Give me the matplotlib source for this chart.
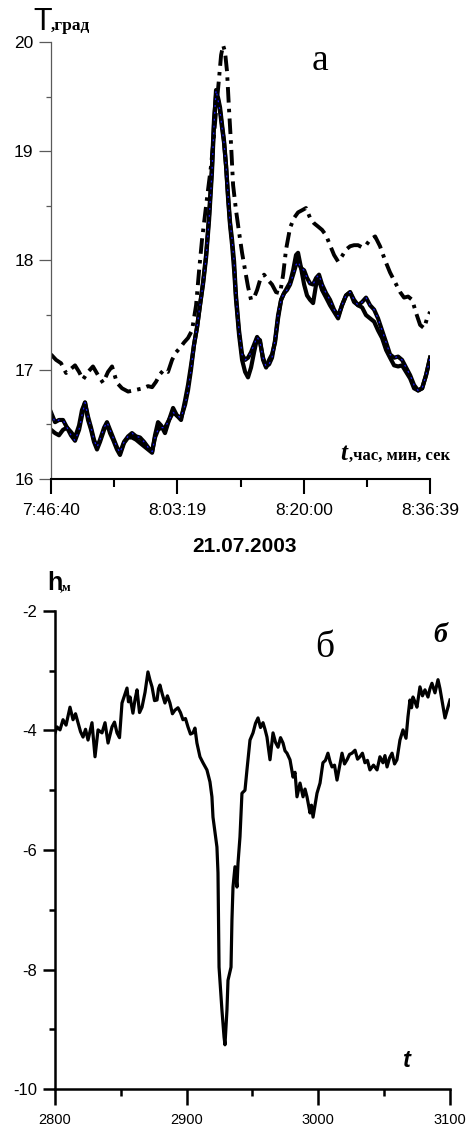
import matplotlib
matplotlib.use("Agg")
import matplotlib.pyplot as plt
from matplotlib.ticker import FixedLocator, MultipleLocator, FuncFormatter

# ---------------- panel (а): temperature records, seconds since 7:46:40 ----------------
t_solid = [0, 32, 63, 95, 127, 158, 190, 222, 245, 269, 293, 317, 340, 364, 388, 420,
           443, 467, 491, 522, 546, 578, 610, 641, 673, 704, 736, 768, 800, 823, 847,
           871, 902, 934, 966, 997, 1029, 1061, 1084, 1108, 1132, 1156, 1179, 1203, 1227,
           1251, 1274, 1290, 1306, 1322, 1338, 1354, 1369, 1385, 1401, 1417, 1433, 1449,
           1464, 1488, 1512, 1536, 1559, 1583, 1607, 1631, 1654, 1678, 1702, 1726, 1749,
           1773, 1797, 1821, 1844, 1868, 1892, 1916, 1939, 1955, 1979, 2003, 2026, 2050,
           2074, 2098, 2121, 2145, 2177, 2208, 2240, 2272, 2303, 2335, 2367, 2398, 2430,
           2462, 2493, 2525, 2557, 2588, 2620, 2652, 2683, 2715, 2747, 2778, 2810, 2842,
           2873, 2905, 2937, 2968, 3000]

temp_a = [16.61, 16.52, 16.54, 16.54, 16.47, 16.40, 16.35, 16.45, 16.58, 16.70, 16.57,
          16.47, 16.36, 16.29, 16.36, 16.47, 16.52, 16.45, 16.38, 16.29, 16.24, 16.34,
          16.39, 16.42, 16.39, 16.38, 16.34, 16.29, 16.25, 16.38, 16.45, 16.47, 16.47,
          16.54, 16.61, 16.58, 16.56, 16.68, 16.81, 17.00, 17.23, 17.39, 17.59, 17.78,
          18.02, 18.37, 18.81, 19.24, 19.56, 19.47, 19.36, 19.21, 19.08, 18.87, 18.60,
          18.35, 18.19, 17.99, 17.68, 17.36, 17.14, 17.09, 17.11, 17.16, 17.23, 17.30,
          17.25, 17.11, 17.03, 17.05, 17.11, 17.27, 17.50, 17.64, 17.70, 17.73, 17.78,
          17.87, 17.96, 17.99, 17.93, 17.91, 17.84, 17.79, 17.78, 17.84, 17.87, 17.78,
          17.70, 17.64, 17.55, 17.49, 17.59, 17.68, 17.71, 17.64, 17.59, 17.62, 17.66,
          17.59, 17.55, 17.47, 17.36, 17.25, 17.14, 17.11, 17.12, 17.09, 17.02, 16.95,
          16.86, 16.81, 16.83, 16.95, 17.11]

temp_b = [16.45, 16.42, 16.40, 16.45, 16.47, 16.43, 16.38, 16.49, 16.63, 16.70, 16.54,
          16.45, 16.34, 16.27, 16.34, 16.45, 16.51, 16.42, 16.36, 16.27, 16.22, 16.33,
          16.38, 16.38, 16.36, 16.33, 16.30, 16.27, 16.24, 16.40, 16.52, 16.49, 16.42,
          16.54, 16.65, 16.58, 16.54, 16.72, 16.86, 17.04, 17.23, 17.39, 17.59, 17.80,
          18.05, 18.42, 18.87, 19.29, 19.51, 19.49, 19.40, 19.24, 19.10, 18.87, 18.57,
          18.32, 18.14, 17.91, 17.64, 17.32, 17.09, 16.98, 16.93, 17.02, 17.16, 17.29,
          17.27, 17.09, 17.02, 17.09, 17.14, 17.25, 17.47, 17.64, 17.70, 17.75, 17.80,
          17.91, 18.05, 18.07, 17.93, 17.78, 17.68, 17.64, 17.61, 17.78, 17.82, 17.73,
          17.66, 17.59, 17.53, 17.47, 17.59, 17.68, 17.71, 17.62, 17.59, 17.57, 17.50,
          17.47, 17.44, 17.36, 17.29, 17.18, 17.11, 17.04, 17.03, 17.04, 16.98, 16.92,
          16.83, 16.81, 16.83, 16.95, 17.11]

t_dashdot = [0, 40, 79, 119, 150, 190, 222, 253, 293, 332, 372, 412, 451, 483, 522, 562,
             610, 649, 689, 728, 768, 800, 831, 863, 894, 926, 958, 990, 1021, 1053, 1084,
             1116, 1148, 1172, 1195, 1219, 1243, 1267, 1290, 1314, 1330, 1346, 1362, 1377,
             1393, 1409, 1425, 1441, 1464, 1488, 1512, 1536, 1559, 1583, 1607, 1631, 1654,
             1686, 1718, 1749, 1781, 1813, 1837, 1860, 1892, 1924, 1955, 1987, 2018, 2050,
             2082, 2114, 2145, 2177, 2208, 2240, 2272, 2303, 2335, 2367, 2398, 2430, 2462,
             2493, 2525, 2565, 2604, 2644, 2683, 2723, 2763, 2794, 2826, 2858, 2889, 2921,
             2953, 2976, 3000]

temp_c = [17.14, 17.09, 17.06, 16.97, 17.00, 17.04, 16.98, 16.91, 16.98, 17.03, 16.95,
          16.88, 16.98, 17.03, 16.88, 16.83, 16.80, 16.81, 16.82, 16.83, 16.85, 16.84,
          16.89, 16.96, 17.00, 16.98, 17.09, 17.16, 17.20, 17.25, 17.29, 17.36, 17.59,
          17.91, 18.19, 18.42, 18.65, 18.87, 19.15, 19.47, 19.67, 19.88, 19.97, 19.91,
          19.73, 19.38, 19.06, 18.69, 18.46, 18.26, 18.07, 17.91, 17.76, 17.64, 17.66,
          17.73, 17.82, 17.87, 17.82, 17.78, 17.71, 17.70, 17.87, 18.10, 18.30, 18.39,
          18.44, 18.46, 18.48, 18.39, 18.34, 18.31, 18.28, 18.23, 18.14, 18.05, 17.99,
          18.04, 18.10, 18.13, 18.14, 18.14, 18.12, 18.14, 18.19, 18.22, 18.13, 18.00,
          17.89, 17.80, 17.71, 17.66, 17.67, 17.64, 17.52, 17.41, 17.38, 17.47, 17.53]

time_ticks = [0, 1000, 2000, 3000]
time_labels = ["7:46:40", "8:03:19", "8:20:00", "8:36:39"]

# ---------------- panel (б): depth record ----------------
t_depth = [2800.0, 2801.5, 2803.8, 2806.1, 2808.4, 2811.4, 2813.7, 2815.6, 2817.5, 2819.4,
           2821.3, 2823.2, 2825.1, 2828.1, 2830.4, 2832.7, 2835.7, 2838.0, 2840.3, 2843.3,
           2845.2, 2847.1, 2849.0, 2850.9, 2854.7, 2855.8, 2857.0, 2859.2, 2860.8, 2862.3,
           2864.2, 2866.1, 2868.4, 2870.6, 2872.2, 2873.7, 2875.6, 2877.5, 2878.6, 2879.7,
           2881.6, 2883.5, 2885.4, 2887.3, 2889.2, 2891.1, 2893.4, 2895.3, 2897.2, 2899.1,
           2901.0, 2902.9, 2904.8, 2906.3, 2907.8, 2910.1, 2912.4, 2915.4, 2917.7, 2919.2,
           2920.0, 2923.0, 2923.8, 2924.6, 2926.8, 2928.4, 2929.1, 2930.6, 2931.4, 2933.7,
           2934.4, 2935.2, 2936.7, 2938.2, 2939.0, 2940.5, 2942.0, 2944.3, 2945.8, 2948.1,
           2950.4, 2952.3, 2954.2, 2956.1, 2958.0, 2959.5, 2961.0, 2963.3, 2965.6, 2967.5,
           2969.4, 2971.3, 2973.2, 2974.7, 2976.2, 2978.5, 2980.8, 2982.3, 2983.8, 2986.1,
           2988.4, 2989.9, 2991.4, 2993.7, 2994.8, 2996.0, 2999.0, 3001.3, 3003.5, 3005.4,
           3007.3, 3008.9, 3010.4, 3012.3, 3014.2, 3016.1, 3018.0, 3019.9, 3021.8, 3023.7,
           3025.6, 3027.9, 3029.8, 3031.6, 3033.5, 3035.4, 3037.3, 3039.2, 3041.9, 3044.6,
           3046.8, 3049.1, 3050.6, 3052.2, 3054.1, 3056.0, 3057.9, 3059.7, 3062.0, 3064.3,
           3066.6, 3068.1, 3069.6, 3070.8, 3071.9, 3073.4, 3074.9, 3077.2, 3079.1, 3081.0,
           3083.3, 3084.8, 3086.3, 3088.6, 3090.9, 3092.4, 3093.9, 3096.2, 3098.5, 3100.0]

depth = [-4.04, -3.94, -3.99, -3.82, -3.91, -3.61, -3.82, -3.72, -3.87, -4.02,
         -4.11, -3.98, -4.16, -3.87, -4.44, -3.99, -4.04, -3.87, -4.21, -3.94,
         -3.86, -4.04, -4.12, -3.54, -3.29, -3.52, -3.44, -3.71, -3.48, -3.32,
         -3.70, -3.61, -3.36, -3.02, -3.16, -3.27, -3.50, -3.49, -3.30, -3.24,
         -3.40, -3.54, -3.42, -3.54, -3.72, -3.66, -3.62, -3.70, -3.82, -3.80,
         -3.94, -4.06, -4.04, -3.96, -4.21, -4.44, -4.54, -4.66, -4.86, -5.11,
         -5.45, -5.95, -6.38, -7.96, -8.68, -9.13, -9.26, -8.68, -8.18, -7.96,
         -7.17, -6.62, -6.28, -6.62, -6.22, -5.78, -5.05, -5.00, -4.66, -4.16,
         -4.04, -3.88, -3.79, -3.95, -3.87, -3.98, -4.11, -4.49, -4.04, -4.20,
         -4.28, -4.12, -4.21, -4.34, -4.38, -4.49, -4.78, -4.70, -5.11, -4.88,
         -5.11, -4.98, -5.11, -5.38, -5.25, -5.45, -5.05, -4.88, -4.54, -4.50,
         -4.38, -4.52, -4.61, -4.58, -4.83, -4.60, -4.38, -4.56, -4.49, -4.40,
         -4.38, -4.33, -4.48, -4.44, -4.38, -4.54, -4.50, -4.66, -4.58, -4.66,
         -4.44, -4.54, -4.42, -4.61, -4.46, -4.38, -4.56, -4.49, -4.16, -3.99,
         -4.13, -3.77, -3.49, -3.62, -3.44, -3.52, -3.61, -3.27, -3.42, -3.32,
         -3.44, -3.30, -3.21, -3.37, -3.15, -3.30, -3.49, -3.79, -3.61, -3.49]

SANS = "Liberation Sans"
SERIF = "Liberation Serif"
GREY = "#5a5a5a"

fig = plt.figure(figsize=(4.68, 11.31), dpi=100)

# ---- upper panel ----
ax1 = fig.add_axes([0.109, 0.5765, 0.810, 0.3864])
ax1.plot(t_dashdot, temp_c, color="black", lw=2.8, linestyle=(0, (4, 1.6, 0.9, 1.6)),
         dash_capstyle="butt")
ax1.plot(t_solid, temp_b, color="black", lw=3.0, solid_joinstyle="round")
ax1.plot(t_solid, temp_a, color="black", lw=3.0, solid_joinstyle="round")
ax1.plot(t_solid, temp_a, color="#1a1aff", lw=0.9, linestyle=(0, (1.5, 4)))

ax1.set_xlim(0, 3000)
ax1.set_ylim(16, 20)
for side in ("top", "right"):
    ax1.spines[side].set_visible(False)
ax1.spines["left"].set_color(GREY)
ax1.spines["left"].set_linewidth(0.9)
ax1.spines["bottom"].set_linewidth(1.5)

ax1.xaxis.set_major_locator(FixedLocator(time_ticks))
ax1.set_xticklabels(time_labels)
ax1.xaxis.set_minor_locator(MultipleLocator(500))
ax1.yaxis.set_major_locator(MultipleLocator(1))
ax1.yaxis.set_minor_locator(MultipleLocator(0.5))
ax1.tick_params(axis="x", which="major", direction="out", length=10.8, width=1.5,
                pad=6.5, labelsize=12.5)
ax1.tick_params(axis="x", which="minor", direction="out", length=5.8, width=1.5)
ax1.tick_params(axis="y", which="major", direction="out", length=8.6, width=0.9,
                color=GREY, pad=4, labelsize=12.5)
ax1.tick_params(axis="y", which="minor", direction="out", length=3.6, width=0.9,
                color=GREY)
for lab in ax1.get_xticklabels() + ax1.get_yticklabels():
    lab.set_fontfamily(SANS)

fig.text(0.0705, 0.9735, "T", family=SANS, fontsize=22, ha="left", va="baseline")
fig.text(0.1085, 0.9735, ",град", family=SERIF, fontweight="bold", fontsize=12.5,
         ha="left", va="baseline")
fig.text(0.684, 0.938, "а", family=SERIF, fontsize=27, ha="center", va="baseline")
fig.text(0.727, 0.5933, "t", family=SERIF, fontweight="bold", fontstyle="italic",
         fontsize=18, ha="left", va="baseline")
fig.text(0.9615, 0.5933, ",час, мин, сек", family=SERIF, fontweight="bold",
         fontsize=12, ha="right", va="baseline")
fig.text(0.5235, 0.5164, "21.07.2003", family=SANS, fontweight="bold", fontsize=15,
         ha="center", va="center")

# ---- lower panel ----
ax2 = fig.add_axes([0.1175, 0.0371, 0.844, 0.4227])
ax2.plot(t_depth, depth, color="black", lw=2.3, solid_joinstyle="round")
ax2.set_xlim(2800, 3100)
ax2.set_ylim(-10, -2)
for side in ("top", "right"):
    ax2.spines[side].set_visible(False)
for side in ("left", "bottom"):
    ax2.spines[side].set_linewidth(1.8)
ax2.xaxis.set_major_locator(MultipleLocator(100))
ax2.xaxis.set_minor_locator(MultipleLocator(50))
ax2.yaxis.set_major_locator(MultipleLocator(2))
ax2.yaxis.set_minor_locator(MultipleLocator(1))
ax2.tick_params(axis="x", which="major", direction="out", length=11.5, width=1.8,
                pad=6, labelsize=10.5)
ax2.tick_params(axis="x", which="minor", direction="out", length=5, width=1.8)
ax2.tick_params(axis="y", which="major", direction="out", length=8.6, width=1.8,
                pad=4, labelsize=12)
ax2.tick_params(axis="y", which="minor", direction="out", length=4.3, width=1.8)
for lab in ax2.get_xticklabels() + ax2.get_yticklabels():
    lab.set_fontfamily(SANS)
ax2.yaxis.set_major_formatter(FuncFormatter(lambda v, p: f"{v:.0f}"))

fig.text(0.100, 0.4783, "h", family=SANS, fontweight="bold", fontsize=18,
         ha="left", va="baseline")
fig.text(0.128, 0.4783, ",м", family=SERIF, fontweight="bold", fontsize=9,
         ha="left", va="baseline")
fig.text(0.6944, 0.4191, "б", family=SERIF, fontsize=27, ha="center", va="baseline")
fig.text(0.940, 0.4324, "б", family=SERIF, fontweight="bold", fontstyle="italic",
         fontsize=20, ha="center", va="baseline")
fig.text(0.861, 0.0566, "t", family=SANS, fontweight="bold", fontstyle="italic",
         fontsize=17, ha="left", va="baseline")

fig.savefig("out.png", dpi=100)
